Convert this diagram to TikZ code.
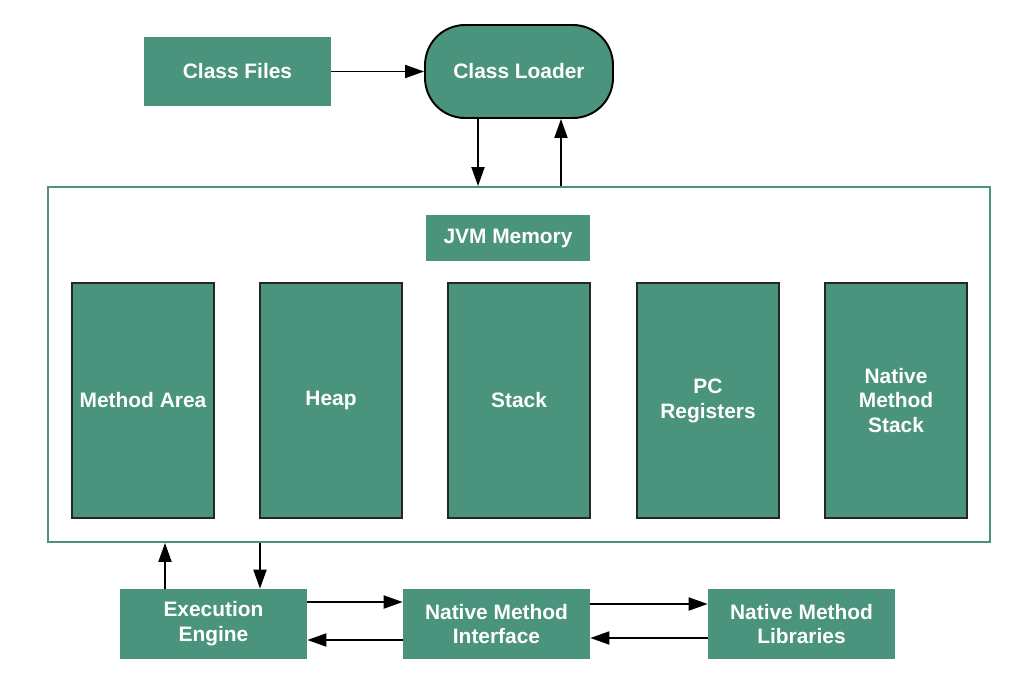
\documentclass[tikz,border=0pt]{standalone}
\usepackage{fontspec}
\setmainfont{Liberation Sans}
\usepackage{tikz}
\usetikzlibrary{positioning, arrows.meta, calc}
\definecolor{jvmgreen}{RGB}{74,147,124}

\begin{document}
\begin{tikzpicture}[x=0.02cm, y=-0.02cm, >={Triangle[length=0.38cm, width=0.26cm]},
    box/.style={fill=jvmgreen, text=white, align=center,
      font=\fontsize{11.9}{14.2}\selectfont\bfseries, inner sep=0pt},
    part/.style={box, draw=black!85, line width=1pt, minimum width=2.84cm, minimum height=4.7cm},
    wide/.style={box, minimum width=3.74cm, minimum height=1.4cm},
    link/.style={->, line width=1.1pt}]
      \useasboundingbox (0,0) rectangle (1024,676);

      % Loading
      \node[wide] (files) at (237.5,71.5) {Class Files};
      \node[box, draw=black, line width=1.1pt, rounded corners=0.8cm,
        minimum width=3.76cm, minimum height=1.86cm] (loader) at (519,71.5) {Class Loader};

      % Memory areas
      \node[draw=jvmgreen, line width=1.1pt, minimum width=18.84cm, minimum height=7.1cm] (memory) at (519,364.5) {};
      \node[box, minimum width=3.28cm, minimum height=0.92cm] (title) at (508,238) {JVM Memory};

      \node[part] (method) at (143,400.5) {Method Area};
      \node[part] (heap) at (331,400.5) {Heap};
      \node[part] (stack) at (519,400.5) {Stack};
      \node[part] (pc) at (708,400.5) {PC\\Registers};
      \node[part] (native) at (896,400.5) {Native\\Method\\Stack};

      % Execution
      \node[wide] (engine) at (213.5,624) {Execution\\Engine};
      \node[wide] (interface) at (496.5,624) {Native Method\\Interface};
      \node[wide] (libraries) at (801.5,624) {Native Method\\Libraries};

      % Transitions
      \draw[link] (files) -- (loader);
      \draw[link] ([xshift=-0.82cm]loader.south) -- ([xshift=-0.82cm]loader.south |- memory.north);
      \draw[link] ([xshift=0.84cm]loader.south |- memory.north) -- ([xshift=0.84cm]loader.south);

      \draw[link] ([xshift=-0.97cm]engine.north) -- ([xshift=-0.97cm]engine.north |- memory.south);
      \draw[link] ([xshift=0.93cm]engine.north |- memory.south) -- ([xshift=0.93cm]engine.north);

      \draw[link] ([yshift=0.44cm]engine.east) -- ([yshift=0.44cm]interface.west);
      \draw[link] ([yshift=-0.32cm]interface.west) -- ([yshift=-0.32cm]engine.east);
      \draw[link] ([yshift=0.4cm]interface.east) -- ([yshift=0.4cm]libraries.west);
      \draw[link] ([yshift=-0.28cm]libraries.west) -- ([yshift=-0.28cm]interface.east);

    \end{tikzpicture}
\end{document}
